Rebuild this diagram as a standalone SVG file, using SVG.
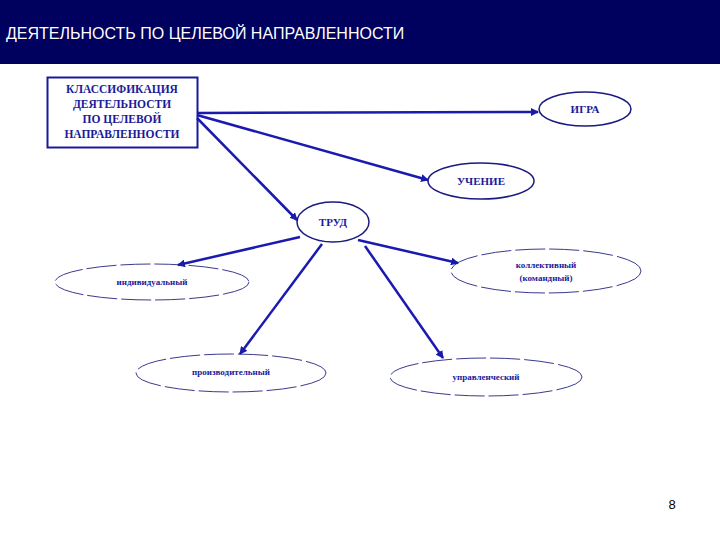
<svg xmlns="http://www.w3.org/2000/svg" width="720" height="540" viewBox="0 0 720 540">
<defs>
<marker id="ah" markerWidth="8" markerHeight="8" refX="7" refY="4" orient="auto" markerUnits="userSpaceOnUse"><path d="M0,0 L8,4 L0,8 z" fill="#1a1aa8"/></marker>
<style>
.t{font-family:"Liberation Serif",serif;font-weight:bold;fill:#1a1a99;text-anchor:middle}
.e{fill:#fff;stroke:#1a1a80;stroke-width:1.5}
.d{fill:#fff;stroke:#3a3a90;stroke-width:1;stroke-dasharray:30 4}
.c{stroke:#1a1ab0;stroke-width:2.5;fill:none;marker-end:url(#ah)}
</style>
</defs>
<rect width="720" height="540" fill="#fff"/>
<rect x="0" y="0" width="720" height="64" fill="#00005e"/>
<text x="6" y="39" font-family="Liberation Sans,sans-serif" font-size="16" fill="#fff">ДЕЯТЕЛЬНОСТЬ ПО ЦЕЛЕВОЙ НАПРАВЛЕННОСТИ</text>
<g id="root"><rect x="47.5" y="77.5" width="150" height="70" fill="#fff" stroke="#1a1a99" stroke-width="2"/>
<text class="t" font-size="11.5"><tspan x="122" y="93">КЛАССИФИКАЦИЯ</tspan><tspan x="122" y="108">ДЕЯТЕЛЬНОСТИ</tspan><tspan x="122" y="123">ПО ЦЕЛЕВОЙ</tspan><tspan x="122" y="138">НАПРАВЛЕННОСТИ</tspan></text></g>
<g id="igra"><ellipse class="e" cx="585" cy="109" rx="46" ry="17"/><text class="t" x="585" y="113" font-size="11">ИГРА</text></g>
<g id="uchenie"><ellipse class="e" cx="481" cy="181" rx="53" ry="18"/><text class="t" x="481" y="185" font-size="11">УЧЕНИЕ</text></g>
<g id="trud"><ellipse class="e" cx="333" cy="222" rx="36" ry="20"/><text class="t" x="333" y="226" font-size="11">ТРУД</text></g>
<g id="indiv"><ellipse class="d" cx="152" cy="282" rx="97" ry="18"/><text class="t" x="152" y="285" font-size="9">индивидуальный</text></g>
<g id="kollekt"><ellipse class="d" cx="546" cy="271" rx="95" ry="22"/><text class="t" font-size="9"><tspan x="546" y="268">коллективный</tspan><tspan x="546" y="281">(командный)</tspan></text></g>
<g id="proizv"><ellipse class="d" cx="231" cy="373" rx="95" ry="19"/><text class="t" x="231" y="375" font-size="9">производительный</text></g>
<g id="uprav"><ellipse class="d" cx="486" cy="377" rx="96" ry="19"/><text class="t" x="486" y="380" font-size="9">управленческий</text></g>
<g id="connectors">
<line class="c" x1="197" y1="113" x2="538" y2="112"/>
<line class="c" x1="197" y1="115" x2="428" y2="180"/>
<line class="c" x1="197" y1="118" x2="297" y2="220"/>
<line class="c" x1="300" y1="237" x2="178" y2="265"/>
<line class="c" x1="358" y1="240" x2="458" y2="263"/>
<line class="c" x1="322" y1="244" x2="240" y2="354"/>
<line class="c" x1="365" y1="246" x2="443" y2="358"/>
</g>
<text x="672" y="509" font-family="Liberation Sans,sans-serif" font-size="13" fill="#000" text-anchor="middle">8</text>
</svg>
